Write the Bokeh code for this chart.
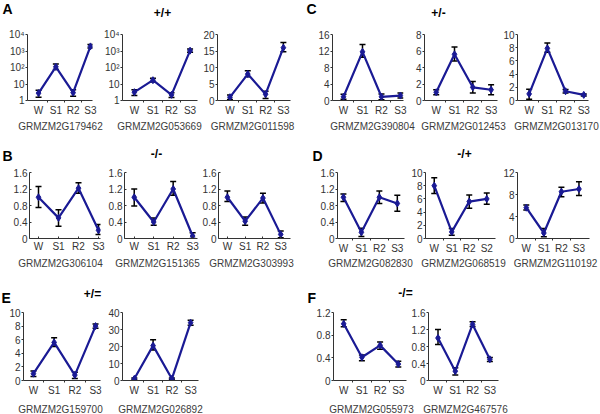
from bokeh.plotting import figure
from bokeh.layouts import row, column
from bokeh.models import Range1d, FixedTicker, Whisker, ColumnDataSource, Label, TeeHead
from bokeh.embed import file_html
from bokeh.resources import INLINE

# ---------------- data ----------------
STAGES = ["W", "S1", "R2", "S3"]
STAGES_ALT = ["W", "S1", "R2", "S2"]

LOG_TICKS = [1, 10, 100, 1000, 10000]
LOG_LABELS = ["1", "10", "10²", "10³", "10⁴"]
T_20 = [0, 5, 10, 15, 20]
T_16 = [0, 4, 8, 12, 16]
T_8 = [0, 2, 4, 6, 8]
T_10 = [0, 2, 4, 6, 8, 10]
T_1p6 = [0, 0.4, 0.8, 1.2, 1.6]
T_1p2 = [0, 0.4, 0.8, 1.2]
T_12 = [0, 4, 8, 12]
T_40 = [0, 10, 20, 30, 40]

PANEL_LETTERS = ["A", "B", "C", "D", "E", "F"]
GROUP_TITLES = ["+/+", "-/-", "+/-", "-/+", "+/=", "-/="]

# A  +/+
g179462_mean = [2.8, 110, 3.0, 1900]
g179462_lo = [1.6, 75, 1.8, 1500]
g179462_hi = [4.2, 165, 4.5, 2500]
g053669_mean = [3.2, 17, 2.2, 1050]
g053669_lo = [2.0, 13, 1.5, 850]
g053669_hi = [4.5, 22, 3.0, 1300]
g011598_mean = [1.0, 8.0, 1.9, 16.0]
g011598_lo = [0.3, 7.2, 0.6, 14.8]
g011598_hi = [1.7, 9.0, 2.8, 17.6]
# C  +/-
g390804_mean = [0.9, 11.8, 0.9, 1.2]
g390804_lo = [0.3, 10.5, 0.2, 0.6]
g390804_hi = [1.5, 13.6, 1.6, 1.8]
g012453_mean = [1.0, 5.6, 1.6, 1.3]
g012453_lo = [0.7, 4.8, 0.9, 0.7]
g012453_hi = [1.3, 6.5, 2.3, 1.9]
g013170_mean = [1.0, 7.9, 1.4, 0.85]
g013170_lo = [0.2, 7.3, 1.15, 0.7]
g013170_hi = [1.7, 8.7, 1.65, 1.0]
# B  -/-
g306104_mean = [1.0, 0.5, 1.22, 0.2]
g306104_lo = [0.75, 0.3, 1.1, 0.1]
g306104_hi = [1.26, 0.7, 1.35, 0.34]
g151365_mean = [1.0, 0.4, 1.2, 0.06]
g151365_lo = [0.79, 0.32, 1.05, 0.0]
g151365_hi = [1.2, 0.5, 1.38, 0.14]
g303993_mean = [1.0, 0.42, 0.98, 0.1]
g303993_lo = [0.9, 0.32, 0.86, 0.02]
g303993_hi = [1.15, 0.52, 1.1, 0.18]
# D  -/+
g082830_mean = [1.0, 0.15, 1.0, 0.85]
g082830_lo = [0.9, 0.05, 0.85, 0.66]
g082830_hi = [1.08, 0.25, 1.15, 1.05]
g068519_mean = [8.0, 1.0, 5.6, 6.0]
g068519_lo = [6.8, 0.5, 4.6, 5.2]
g068519_hi = [9.2, 1.5, 6.6, 6.9]
g110192_mean = [5.6, 1.0, 8.5, 9.0]
g110192_lo = [5.2, 0.3, 7.6, 7.8]
g110192_hi = [6.1, 1.8, 9.3, 10.3]
# E  +/=
g159700_mean = [1.0, 5.6, 0.8, 8.0]
g159700_lo = [0.6, 5.0, 0.3, 7.7]
g159700_hi = [1.4, 6.3, 1.2, 8.3]
g026892_mean = [1.0, 20.5, 1.0, 34.0]
g026892_lo = [0.5, 18.0, 0.6, 32.5]
g026892_hi = [1.4, 24.0, 1.4, 35.5]
# F  -/=
g055973_mean = [1.0, 0.41, 0.62, 0.29]
g055973_lo = [0.95, 0.35, 0.55, 0.24]
g055973_hi = [1.07, 0.45, 0.68, 0.34]
g467576_mean = [1.0, 0.22, 1.32, 0.5]
g467576_lo = [0.85, 0.13, 1.27, 0.45]
g467576_hi = [1.2, 0.3, 1.38, 0.54]

# ---------------- layout helpers ----------------
TOTAL_W = 600
FONT = "Liberation Sans"
NAVY = "#1a1a94"


def lin(t):
    return ["%g" % v for v in t]


def blank(h):
    f = figure(width=TOTAL_W, height=h, x_range=Range1d(0, TOTAL_W),
               y_range=Range1d(h, 0), min_border_left=0, min_border_right=0,
               min_border_top=0, min_border_bottom=0, toolbar_location=None,
               output_backend="svg", x_axis_location=None, y_axis_location=None)
    f.outline_line_color = None
    f.grid.visible = False
    f.background_fill_color = "white"
    f.border_fill_color = "white"
    return f


def make_panel(mean, lo, hi, labels, yticks, ylabels, log, xr, frame,
               bounds, rowt, style):
    L, R, T, B = frame
    bl, br = bounds
    rt, rb = rowt
    W = br - bl
    H = rb - rt
    fx0 = L - bl
    fw = R - L
    fy0 = T - rt
    fh = B - T
    p = figure(width=W, height=H,
               min_border_left=fx0, min_border_right=W - fx0 - fw,
               min_border_top=fy0, min_border_bottom=H - fy0 - fh,
               x_range=Range1d(xr[0], xr[1]),
               y_range=Range1d(yticks[0], yticks[-1]),
               y_axis_type="log" if log else "linear",
               toolbar_location=None, output_backend="svg")
    p.outline_line_color = None
    p.xgrid.visible = False
    p.ygrid.visible = False
    p.background_fill_color = "white"
    p.border_fill_color = "white"

    xa = p.xaxis[0]
    xa.ticker = FixedTicker(ticks=[0, 1, 2, 3],
                            minor_ticks=[0.5, 1.5, 2.5] if style == "excel" else [])
    xa.major_label_overrides = {i: s for i, s in enumerate(labels)}
    xa.major_tick_out = 0
    xa.major_tick_in = 2 if style == "matlab" else 0
    xa.minor_tick_in = 0
    xa.minor_tick_out = 2 if style == "excel" else 0
    xa.major_label_standoff = 2
    xa.major_label_text_font = FONT
    xa.major_label_text_font_size = "10px"
    xa.major_label_text_color = "#333333"
    xa.axis_line_color = "#333333"
    xa.major_tick_line_color = "#333333"
    xa.minor_tick_line_color = "#333333"

    ya = p.yaxis[0]
    ya.ticker = FixedTicker(ticks=yticks)
    ya.major_label_overrides = dict(zip(yticks, ylabels))
    ya.major_tick_out = 2 if style == "excel" else 0
    ya.major_tick_in = 2 if style == "matlab" else 0
    ya.minor_tick_in = 0
    ya.minor_tick_out = 0
    ya.major_label_standoff = 1 if style == "excel" else 2
    ya.major_label_text_font = FONT
    ya.major_label_text_font_size = "10px"
    ya.major_label_text_color = "#333333"
    ya.axis_line_color = "#333333"
    ya.major_tick_line_color = "#333333"

    src = ColumnDataSource(dict(x=[0, 1, 2, 3], m=mean, lo=lo, hi=hi))
    wk = Whisker(source=src, base="x", lower="lo", upper="hi",
                 line_color="black", line_width=1.5,
                 upper_head=TeeHead(size=6, line_color="black", line_width=1.5),
                 lower_head=TeeHead(size=6, line_color="black", line_width=1.5))
    p.add_layout(wk)
    p.line("x", "m", source=src, line_color=NAVY, line_width=2.2)
    p.scatter("x", "m", source=src, marker="diamond", size=7,
              fill_color=NAVY, line_color=NAVY)
    return p


def header(band, items):
    top, bottom = band
    f = blank(bottom - top)
    for text, x, y, kind, align in items:
        big = kind == "letter"
        f.add_layout(Label(x=x, y=y - top - (2.6 if big else 2.2),
                           text=text, text_font=FONT, text_font_style="bold",
                           text_font_size="14px" if big else "12px",
                           text_align=align, text_baseline="top",
                           text_color="black"))
    return f


def footer(band, names, y):
    top, bottom = band
    f = blank(bottom - top)
    for text, cx in names:
        f.add_layout(Label(x=cx, y=y - top - 2.0, text=text,
                           text_font=FONT, text_font_size="10px",
                           text_align="center", text_baseline="top",
                           text_color="#3c3c3c"))
    return f


# vertical bands (pixels)
H1, P1, F1 = (0, 21), (21, 118), (118, 135)
H2, P2, F2 = (135, 166), (166, 256), (256, 276)
H3, P3, F3 = (276, 305), (305, 398), (398, 414)

# ---- band 1 : A and C ----
a1 = make_panel(g179462_mean, g179462_lo, g179462_hi, STAGES, LOG_TICKS, LOG_LABELS,
                True, (-0.64, 3.12), (27, 92, 33, 101), (0, 100), P1, "excel")
a2 = make_panel(g053669_mean, g053669_lo, g053669_hi, STAGES, LOG_TICKS, LOG_LABELS,
                True, (-0.64, 3.4), (122, 197, 33, 101), (100, 200), P1, "excel")
a3 = make_panel(g011598_mean, g011598_lo, g011598_hi, STAGES, T_20, lin(T_20),
                False, (-0.7, 3.4), (214, 290, 33, 101), (200, 300), P1, "excel")
c1 = make_panel(g390804_mean, g390804_lo, g390804_hi, STAGES, T_16, lin(T_16),
                False, (-0.58, 3.16), (332, 403, 34, 101), (300, 412), P1, "excel")
c2 = make_panel(g012453_mean, g012453_lo, g012453_hi, STAGES, T_8, lin(T_8),
                False, (-0.64, 3.35), (423, 497, 34, 101), (412, 500), P1, "excel")
c3 = make_panel(g013170_mean, g013170_lo, g013170_hi, STAGES, T_10, lin(T_10),
                False, (-0.64, 3.26), (515, 588, 34, 101), (500, 600), P1, "excel")

# ---- band 2 : B and D ----
b1 = make_panel(g306104_mean, g306104_lo, g306104_hi, STAGES, T_1p6, lin(T_1p6),
                False, (-0.45, 3.1), (29, 100, 172, 240), (0, 105), P2, "matlab")
b2 = make_panel(g151365_mean, g151365_lo, g151365_hi, STAGES, T_1p6, lin(T_1p6),
                False, (-0.5, 3.25), (123, 197, 172, 240), (105, 199), P2, "matlab")
b3 = make_panel(g303993_mean, g303993_lo, g303993_hi, STAGES, T_1p6, lin(T_1p6),
                False, (-0.5, 3.55), (215, 290, 172, 240), (199, 303), P2, "matlab")
d1 = make_panel(g082830_mean, g082830_lo, g082830_hi, STAGES, T_1p6, lin(T_1p6),
                False, (-0.33, 3.4), (337, 404, 172, 238), (303, 408), P2, "excel")
d2 = make_panel(g068519_mean, g068519_lo, g068519_hi, STAGES_ALT, T_10, lin(T_10),
                False, (-0.5, 3.5), (424, 495, 172, 238), (408, 500), P2, "excel")
d3 = make_panel(g110192_mean, g110192_lo, g110192_hi, STAGES, T_12, lin(T_12),
                False, (-0.5, 3.6), (515, 589, 172, 238), (500, 600), P2, "excel")

# ---- band 3 : E and F ----
e1 = make_panel(g159700_mean, g159700_lo, g159700_hi, STAGES, T_10, lin(T_10),
                False, (-0.48, 3.24), (23, 100, 309, 382), (0, 105), P3, "excel")
e2 = make_panel(g026892_mean, g026892_lo, g026892_hi, STAGES, T_40, lin(T_40),
                False, (-0.63, 3.42), (121, 198, 309, 382), (105, 305), P3, "excel")
f1 = make_panel(g055973_mean, g055973_lo, g055973_hi, STAGES, T_1p2, lin(T_1p2),
                False, (-0.56, 3.45), (333, 406, 312, 381), (305, 408), P3, "excel")
f2 = make_panel(g467576_mean, g467576_lo, g467576_hi, STAGES, T_1p6, lin(T_1p6),
                False, (-0.55, 3.5), (424, 498, 309, 381), (408, 600), P3, "excel")

h1 = header(H1, [
    (PANEL_LETTERS[0], 2, 3, "letter", "left"),
    (GROUP_TITLES[0], 162, 8, "title", "center"),
    (PANEL_LETTERS[2], 306, 3, "letter", "left"),
    (GROUP_TITLES[2], 438, 8, "title", "center")])
h2 = header(H2, [
    (PANEL_LETTERS[1], 2, 150, "letter", "left"),
    (GROUP_TITLES[1], 156, 149, "title", "center"),
    (PANEL_LETTERS[3], 312, 150, "letter", "left"),
    (GROUP_TITLES[3], 464, 149, "title", "center")])
h3 = header(H3, [
    (PANEL_LETTERS[4], 1, 292, "letter", "left"),
    (GROUP_TITLES[4], 92, 289, "title", "center"),
    (PANEL_LETTERS[5], 307, 292, "letter", "left"),
    (GROUP_TITLES[5], 405, 288, "title", "center")])

ft1 = footer(F1, [
    ("GRMZM2G179462", 60), ("GRMZM2G053669", 159), ("GRMZM2G011598", 252),
    ("GRMZM2G390804", 372), ("GRMZM2G012453", 463), ("GRMZM2G013170", 556)], 122)
ft2 = footer(F2, [
    ("GRMZM2G306104", 60), ("GRMZM2G151365", 157), ("GRMZM2G303993", 251),
    ("GRMZM2G082830", 370), ("GRMZM2G068519", 463), ("GRMZM2G110192", 555)], 259)
ft3 = footer(F3, [
    ("GRMZM2G159700", 60), ("GRMZM2G026892", 160),
    ("GRMZM2G055973", 371), ("GRMZM2G467576", 465)], 405)

layout = column(h1, row(a1, a2, a3, c1, c2, c3), ft1,
                h2, row(b1, b2, b3, d1, d2, d3), ft2,
                h3, row(e1, e2, f1, f2), ft3)

open("out.html", "w").write(file_html(layout, INLINE))
